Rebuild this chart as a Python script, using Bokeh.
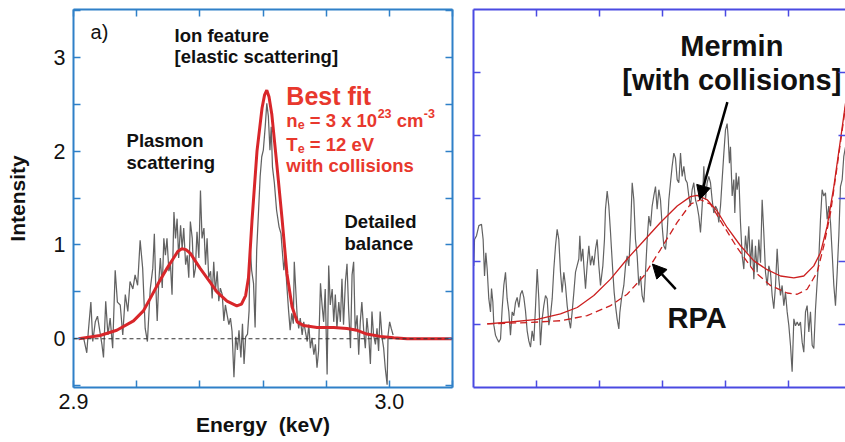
from bokeh.plotting import figure
from bokeh.layouts import row
from bokeh.models import (Range1d, FixedTicker, LinearAxis, Arrow, NormalHead, Span,
                          PrintfTickFormatter, CustomJSTickFormatter)
from bokeh.core.properties import value
from bokeh.embed import file_html
from bokeh.resources import INLINE

FONT = "Liberation Sans"
LEFT_BLUE = "#2f80c8"
RIGHT_BLUE = "#4a4ae2"
RED_TXT = "#e8382d"

# ---------------- panel a) : measured spectrum ----------------
energy = [2.9032, 2.9042, 2.9047, 2.9055, 2.9061, 2.9069, 2.9076, 2.9082, 2.9090, 2.9095,
          2.9102, 2.9109, 2.9116, 2.9124, 2.9132, 2.9139, 2.9148, 2.9156, 2.9164, 2.9172,
          2.9179, 2.9188, 2.9195, 2.9203, 2.9211, 2.9219, 2.9227, 2.9234, 2.9243, 2.9251,
          2.9256, 2.9260, 2.9265, 2.9270, 2.9275, 2.9281, 2.9286, 2.9291, 2.9296, 2.9302,
          2.9307, 2.9312, 2.9318, 2.9323, 2.9328, 2.9333, 2.9339, 2.9344, 2.9349, 2.9355,
          2.9360, 2.9365, 2.9370, 2.9376, 2.9381, 2.9386, 2.9391, 2.9397, 2.9402, 2.9407,
          2.9413, 2.9418, 2.9423, 2.9428, 2.9434, 2.9439, 2.9444, 2.9449, 2.9455, 2.9460,
          2.9465, 2.9471, 2.9476, 2.9481, 2.9486, 2.9492, 2.9497, 2.9502, 2.9508, 2.9513,
          2.9514, 2.9519, 2.9524, 2.9530, 2.9535, 2.9540, 2.9545, 2.9551, 2.9556, 2.9559,
          2.9564, 2.9570, 2.9575, 2.9580, 2.9586, 2.9591, 2.9596, 2.9601, 2.9607, 2.9612,
          2.9617, 2.9622, 2.9626, 2.9630, 2.9636, 2.9643, 2.9651, 2.9657, 2.9661, 2.9666,
          2.9670, 2.9675, 2.9681, 2.9686, 2.9691, 2.9696, 2.9699,
          2.9708, 2.9713, 2.9718, 2.9724, 2.9729, 2.9734, 2.9740, 2.9745, 2.9750, 2.9755,
          2.9761, 2.9766, 2.9771, 2.9776, 2.9782, 2.9787, 2.9792, 2.9797, 2.9803, 2.9808,
          2.9813, 2.9819, 2.9824, 2.9829, 2.9834, 2.9840, 2.9845, 2.9850, 2.9855, 2.9861,
          2.9866, 2.9871, 2.9877, 2.9882, 2.9887, 2.9892, 2.9898, 2.9903, 2.9908, 2.9913,
          2.9919, 2.9924, 2.9929, 2.9935, 2.9940, 2.9945, 2.9950, 2.9956, 2.9961, 2.9966,
          2.9971, 2.9977, 2.9982, 2.9987, 2.9993, 2.9996, 3.0001, 3.0006, 3.0012]
intensity = [0.01, -0.15, 0.08, 0.39, -0.03, 0.18, 0.24, 0.11, -0.06, -0.20,
             0.40, 0.04, 0.22, -0.10, 0.73, 0.39, 0.36, 0.04, 0.47, 0.29,
             0.61, 0.53, 0.68, 0.57, 1.05, 0.75, 0.11, -0.03, 0.53, 0.75,
             1.12, 0.61, 0.19, 0.61, 0.86, 0.54, 1.07, 0.89, 1.07, 0.72,
             0.79, 0.47, 1.35, 1.07, 1.28, 0.86, 1.21, 0.96, 1.18, 0.79,
             0.89, 0.65, 1.25, 1.07, 0.65, 0.75, 1.14, 0.86, 1.58, 1.07,
             1.18, 0.79, 1.07, 0.65, 0.72, 0.43, 0.82, 0.50, 0.72, 0.40,
             0.54, 0.47, 0.19, 0.36, 0.26, 0.15, 0.22, 0.08, -0.41, -0.01,
             0.02, -0.12, 0.09, -0.20, 0.16, -0.27, 0.02, 0.05, 0.30, 1.01,
             0.73, 0.59, 0.12, 0.94, 1.37, 1.73, 1.94, 2.01, 2.26, 2.51,
             2.37, 2.01, 2.26, 1.83, 1.66, 1.37, 1.19, 1.12, 0.94, 0.73,
             0.87, 0.59, 0.30, 0.09, 0.27, 0.16, 0.82,
             0.25, 0.11, 0.22, 0.04, 0.18, 0.08, -0.03, 0.15, -0.10, 0.01,
             -0.17, -0.06, -0.31, -0.13, 0.59, 0.36, 0.18, 0.53, -0.38, 0.78,
             0.36, 0.53, 0.18, 0.47, 0.11, 0.39, 0.18, 0.64, 0.15, 0.61,
             0.80, 0.32, -0.10, 0.68, 0.82, 0.08, 0.25, -0.17, 0.18, 0.39,
             0.08, -0.10, 0.22, 0.01, -0.27, 0.29, 0.04, -0.06, 0.11, -0.13,
             0.29, 0.01, -0.10, -0.31, -0.49, 0.04, 0.18, 0.11, 0.04]

fit_energy = [2.9016, 2.9084, 2.9137, 2.9190, 2.9222, 2.9243, 2.9270, 2.9296, 2.9317, 2.9330,
              2.9343, 2.9356, 2.9370, 2.9401, 2.9433, 2.9454, 2.9486, 2.9517, 2.9532, 2.9545,
              2.9554, 2.9565, 2.9581, 2.9597, 2.9605, 2.9612, 2.9619, 2.9628, 2.9644, 2.9660,
              2.9676, 2.9692, 2.9708, 2.9729, 2.9771, 2.9824, 2.9866, 2.9898, 2.9929, 2.9971,
              3.0014, 3.0056, 3.0201]
fit_intensity = [0.00, 0.035, 0.09, 0.19, 0.30, 0.43, 0.60, 0.75, 0.86, 0.93,
                 0.96, 0.95, 0.91, 0.75, 0.60, 0.50, 0.40, 0.35, 0.37, 0.46,
                 0.65, 1.25, 2.00, 2.46, 2.60, 2.65, 2.58, 2.39, 1.85, 1.29,
                 0.69, 0.34, 0.18, 0.14, 0.12, 0.12, 0.11, 0.09, 0.05, 0.025,
                 0.01, 0.0, 0.0]

x_major = [2.9, 3.0]
x_minor = [2.92, 2.94, 2.96, 2.98, 3.02]
y_major = [0, 1, 2, 3]
y_minor = [-0.5, 0.5, 1.5, 2.5, 3.5]

# ---------------- panel b) : zoom on plasmon ----------------
zx = [0.005, 0.016, 0.048, 0.085, 0.127, 0.153, 0.175, 0.196, 0.217, 0.243,
      0.270, 0.286, 0.307, 0.323, 0.349, 0.376, 0.402, 0.429, 0.455, 0.481,
      0.508, 0.534, 0.561, 0.587, 0.614, 0.640, 0.667, 0.693, 0.720, 0.746,
      0.772, 0.799, 0.825, 0.852, 0.878, 0.905, 0.931, 0.958, 0.984, 1.011,
      1.037, 1.063, 1.090, 1.116, 1.143, 1.169, 1.196, 1.222, 1.249, 1.275,
      1.302, 1.328, 1.354, 1.381, 1.407, 1.434, 1.460, 1.487, 1.513, 1.540,
      1.566, 1.593, 1.619, 1.646, 1.672, 1.688, 1.709, 1.735, 1.751, 1.778,
      1.804, 1.831, 1.857, 1.884, 1.910, 1.937, 1.963, 1.989, 2.016,
      2.053, 2.079, 2.095, 2.122, 2.148, 2.175, 2.190, 2.212, 2.233, 2.254,
      2.280, 2.307, 2.323, 2.349, 2.386, 2.413, 2.439, 2.466, 2.492, 2.519,
      2.545, 2.571, 2.598, 2.624, 2.651, 2.677, 2.704, 2.730, 2.757, 2.783,
      2.810, 2.836, 2.862, 2.889, 2.915, 2.942, 2.968, 2.995, 3.021, 3.048,
      3.074, 3.101, 3.127, 3.153, 3.180, 3.206, 3.233, 3.259, 3.286, 3.312,
      3.339, 3.365, 3.392, 3.418, 3.444, 3.471, 3.497, 3.524, 3.550, 3.577,
      3.603, 3.630, 3.656, 3.683, 3.709, 3.735, 3.762, 3.788, 3.815, 3.841,
      3.868, 3.894,
      3.921, 3.947, 3.974, 4.000, 4.026, 4.042, 4.063, 4.079, 4.106, 4.132,
      4.148, 4.169, 4.185, 4.212, 4.238, 4.265, 4.291, 4.317, 4.344, 4.370,
      4.397, 4.423, 4.450, 4.476, 4.503, 4.529, 4.556, 4.582, 4.608, 4.635,
      4.661, 4.688, 4.714, 4.741, 4.767, 4.794, 4.820, 4.847, 4.873, 4.899,
      4.926, 4.952, 4.979, 5.005, 5.032, 5.058, 5.085, 5.111, 5.138, 5.164,
      5.190, 5.217, 5.243, 5.270, 5.296, 5.323, 5.349, 5.376, 5.402, 5.429,
      5.455, 5.481, 5.508, 5.534, 5.561, 5.587, 5.614, 5.640, 5.667, 5.693,
      5.720, 5.746, 5.773, 5.799, 5.825, 5.852, 5.878, 5.905]
zy = [1.93, 2.35, 2.41, 2.57, 2.59, 2.35, 1.77, 2.14, 1.88, 1.41,
      1.20, 1.57, 1.36, 0.99, 0.83, 0.77, 0.72, 0.77, 1.25, 1.62,
      1.83, 1.41, 1.20, 0.83, 1.20, 1.14, 1.35, 1.43, 1.27, 1.48,
      1.54, 1.43, 1.22, 0.90, 0.74, 0.64, 0.90, 0.74, 1.27, 1.88,
      1.41, 0.67, 1.09, 1.30, 1.46, 1.41, 0.99, 1.14, 1.41, 1.88,
      2.25, 2.51, 2.35, 1.83, 1.51, 1.83, 1.62, 1.30, 1.09, 0.94,
      1.20, 1.51, 1.83, 1.94, 2.04, 2.41, 2.00, 2.20, 1.94, 1.57,
      1.94, 2.25, 1.94, 2.09, 1.94, 2.20, 2.35, 1.94, 1.62,
      1.93, 2.35, 2.83, 3.12, 2.88, 2.46, 2.20, 1.83, 1.51, 1.30,
      1.09, 0.93, 1.19, 1.41, 1.62, 1.93, 2.09, 1.93, 2.46, 3.25,
      2.98, 2.35, 2.09, 1.62, 1.77, 1.46, 1.35, 1.82, 2.35, 2.72,
      2.56, 2.88, 3.04, 3.19, 2.83, 3.14, 2.98, 2.56, 2.25, 2.19,
      2.46, 2.98, 3.25, 3.51, 3.72, 3.64, 3.30, 3.25, 3.72, 3.35,
      3.51, 3.30, 3.25, 3.04, 2.88, 3.14, 3.25, 2.98, 2.88, 2.72,
      2.46, 2.88, 3.51, 2.98, 3.25, 3.35, 3.25, 2.98, 2.77, 2.88,
      2.83, 2.62,
      2.88, 3.30, 3.72, 4.09, 4.19, 3.98, 3.56, 3.82, 3.04, 3.30,
      2.77, 3.41, 3.14, 3.35, 2.62, 2.09, 1.88, 2.41, 2.14, 2.56,
      1.93, 2.35, 1.72, 2.25, 1.83, 2.35, 1.98, 2.98, 2.46, 1.83,
      1.62, 1.93, 1.83, 1.46, 1.25, 1.62, 2.20, 1.72, 1.46, 1.62,
      1.30, 1.51, 1.20, 0.99, 0.67, 0.25, 1.09, 0.98, 1.04, 0.98,
      1.04, 0.72, 0.56, 1.20, 1.30, 0.88, 1.20, 0.67, 0.62, 1.25,
      1.67, 2.04, 2.67, 3.14, 3.04, 3.09, 2.67, 2.88, 2.62, 2.14,
      1.62, 1.30, 1.83, 2.41, 3.19, 3.30, 3.67, 3.82]

mermin_x = [0.217, 0.587, 1.011, 1.381, 1.646, 1.910, 2.175, 2.439, 2.704, 2.968,
            3.233, 3.444, 3.550, 3.709, 3.868, 4.026, 4.238, 4.450, 4.661, 4.873,
            5.085, 5.243, 5.402, 5.508, 5.614, 5.720, 5.825, 5.905]
mermin_y = [1.01, 1.04, 1.08, 1.17, 1.27, 1.46, 1.72, 2.04, 2.33, 2.62,
            2.88, 3.03, 3.05, 2.98, 2.80, 2.54, 2.25, 2.01, 1.87, 1.77,
            1.74, 1.77, 1.93, 2.14, 2.56, 3.19, 3.93, 4.51]
rpa_x = [0.217, 0.852, 1.381, 1.804, 2.175, 2.439, 2.704, 2.968, 3.233, 3.444,
         3.603, 3.762, 3.974, 4.185, 4.450, 4.714, 4.979, 5.138, 5.296, 5.455,
         5.561, 5.667, 5.772, 5.905]
rpa_y = [1.01, 1.03, 1.06, 1.14, 1.30, 1.48, 1.77, 2.19, 2.62, 2.91,
         2.98, 2.91, 2.56, 2.22, 1.85, 1.62, 1.50, 1.48, 1.56, 1.83,
         2.25, 2.77, 3.51, 4.46]

z_ticks = [1, 2, 3, 4, 5]

BLANK = "return ''"
TXT_SHIFT = -8  # px, lifts annotation baselines


def style_axis(ax, color, show_labels):
    ax.axis_line_color = color
    ax.axis_line_width = 2
    ax.major_tick_line_color = color
    ax.minor_tick_line_color = color
    ax.major_tick_line_width = 1.5
    ax.minor_tick_line_width = 1.5
    ax.major_tick_in = 7
    ax.major_tick_out = 0
    ax.minor_tick_in = 7
    ax.minor_tick_out = 0
    ax.major_label_text_font = FONT
    ax.major_label_text_color = "#111111"
    if show_labels:
        ax.major_label_text_font_size = "21.5px"
        ax.major_label_standoff = 6
    else:
        ax.formatter = CustomJSTickFormatter(code=BLANK)
        ax.major_label_text_font_size = "0px"
        ax.major_label_standoff = 0


def add_text(p, x, y, t, size, color="#111111", bold=True, align="left", dx=0, dy=0):
    p.text(x=[x], y=[y], text=[t], text_font=value(FONT), text_font_size=size,
           text_font_style="bold" if bold else "normal", text_color=color,
           text_align=align, text_baseline="alphabetic", x_offset=dx, y_offset=dy + TXT_SHIFT)


# ---------- left figure ----------
p1 = figure(width=460, height=442, x_range=Range1d(2.9, 3.02), y_range=Range1d(-0.52, 3.51),
            output_backend="svg", toolbar_location=None,
            min_border_left=73, min_border_right=8, min_border_top=7, min_border_bottom=55)
p1.grid.visible = False
p1.outline_line_color = None
p1.background_fill_color = "white"

xb = p1.below[0]
yl = p1.left[0]
xb.ticker = FixedTicker(ticks=x_major, minor_ticks=x_minor)
yl.ticker = FixedTicker(ticks=y_major, minor_ticks=y_minor)
xb.formatter = PrintfTickFormatter(format="%.1f")
yl.formatter = PrintfTickFormatter(format="%d")
style_axis(xb, LEFT_BLUE, True)
style_axis(yl, LEFT_BLUE, True)
yl.major_label_standoff = 8
for ax in (xb, yl):
    ax.axis_label_text_font = FONT
    ax.axis_label_text_font_style = "bold"
    ax.axis_label_text_font_size = "21px"
    ax.axis_label_text_color = "#111111"
xb.axis_label = "Energy\u00a0\u00a0(keV)"
xb.axis_label_standoff = 1
yl.axis_label = "Intensity"
yl.axis_label_standoff = 22

top1 = LinearAxis(ticker=FixedTicker(ticks=x_major, minor_ticks=x_minor))
right1 = LinearAxis(ticker=FixedTicker(ticks=y_major, minor_ticks=y_minor))
style_axis(top1, LEFT_BLUE, False)
style_axis(right1, LEFT_BLUE, False)
p1.add_layout(top1, "above")
p1.add_layout(right1, "right")

p1.line(energy, intensity, line_color="#626262", line_width=1.25)
p1.add_layout(Span(location=0, dimension="width", line_color="#333333",
                   line_dash="4 3", line_width=1.2))
p1.line(fit_energy, fit_intensity, line_color="#d8262a", line_width=3)

add_text(p1, 2.9054, 3.18, "a)", "20px", bold=False)
add_text(p1, 2.9320, 3.15, "Ion feature", "18.5px")
add_text(p1, 2.9320, 2.92, "[elastic scattering]", "18.5px")
add_text(p1, 2.9168, 2.025, "Plasmon", "18.5px")
add_text(p1, 2.9168, 1.79, "scattering", "18.5px")
add_text(p1, 2.9858, 1.166, "Detailed", "18.5px")
add_text(p1, 2.9858, 0.933, "balance", "18.5px")
add_text(p1, 2.9674, 2.50, "Best fit", "25px", color=RED_TXT)
# n_e = 3 x 10^23 cm^-3
add_text(p1, 2.9674, 2.237, "n", "18.5px", color=RED_TXT)
add_text(p1, 2.9674, 2.237, "e", "12.5px", color=RED_TXT, dx=11.3, dy=4)
add_text(p1, 2.9674, 2.237, "= 3 x 10", "18.5px", color=RED_TXT, dx=23.4)
add_text(p1, 2.9674, 2.237, "23", "12.5px", color=RED_TXT, dx=91.3, dy=-7)
add_text(p1, 2.9674, 2.237, "cm", "18.5px", color=RED_TXT, dx=110.3)
add_text(p1, 2.9674, 2.237, "-3", "12.5px", color=RED_TXT, dx=137.5, dy=-7)
# T_e = 12 eV
add_text(p1, 2.9674, 1.99, "T", "18.5px", color=RED_TXT)
add_text(p1, 2.9674, 1.99, "e", "12.5px", color=RED_TXT, dx=11.3, dy=4)
add_text(p1, 2.9674, 1.99, "= 12 eV", "18.5px", color=RED_TXT, dx=23.4)
add_text(p1, 2.9674, 1.76, "with collisions", "18.5px", color=RED_TXT)

# ---------- right figure ----------
p2 = figure(width=385, height=442, x_range=Range1d(0, 5.905), y_range=Range1d(0, 6),
            output_backend="svg", toolbar_location=None,
            min_border_left=13, min_border_right=0, min_border_top=9, min_border_bottom=53)
p2.grid.visible = False
p2.outline_line_color = None
p2.below[0].ticker = FixedTicker(ticks=z_ticks)
p2.left[0].ticker = FixedTicker(ticks=z_ticks)
style_axis(p2.below[0], RIGHT_BLUE, False)
style_axis(p2.left[0], RIGHT_BLUE, False)
top2 = LinearAxis(ticker=FixedTicker(ticks=z_ticks))
right2 = LinearAxis(ticker=FixedTicker(ticks=z_ticks))
style_axis(top2, RIGHT_BLUE, False)
style_axis(right2, RIGHT_BLUE, False)
right2.axis_line_color = None
p2.add_layout(top2, "above")
p2.add_layout(right2, "right")

p2.line(zx, zy, line_color="#626262", line_width=1.2)
p2.line(rpa_x, rpa_y, line_color="#cc2020", line_width=1.3, line_dash="7 4")
p2.line(mermin_x, mermin_y, line_color="#cc2020", line_width=1.3)

add_text(p2, 4.10, 5.30, "Mermin", "29px", align="center")
add_text(p2, 4.10, 4.75, "[with collisions]", "29px", align="center")
add_text(p2, 3.55, 0.97, "RPA", "29px", align="center")

p2.add_layout(Arrow(end=NormalHead(size=14, fill_color="black", line_color="black"),
                    x_start=4.03, y_start=4.53, x_end=3.59, y_end=2.98,
                    line_width=2.5, line_color="black"))
p2.add_layout(Arrow(end=NormalHead(size=14, fill_color="black", line_color="black"),
                    x_start=3.21, y_start=1.56, x_end=2.84, y_end=1.96,
                    line_width=2.5, line_color="black"))

layout = row(p1, p2, spacing=0)
open("out.html", "w").write(file_html(layout, INLINE))
